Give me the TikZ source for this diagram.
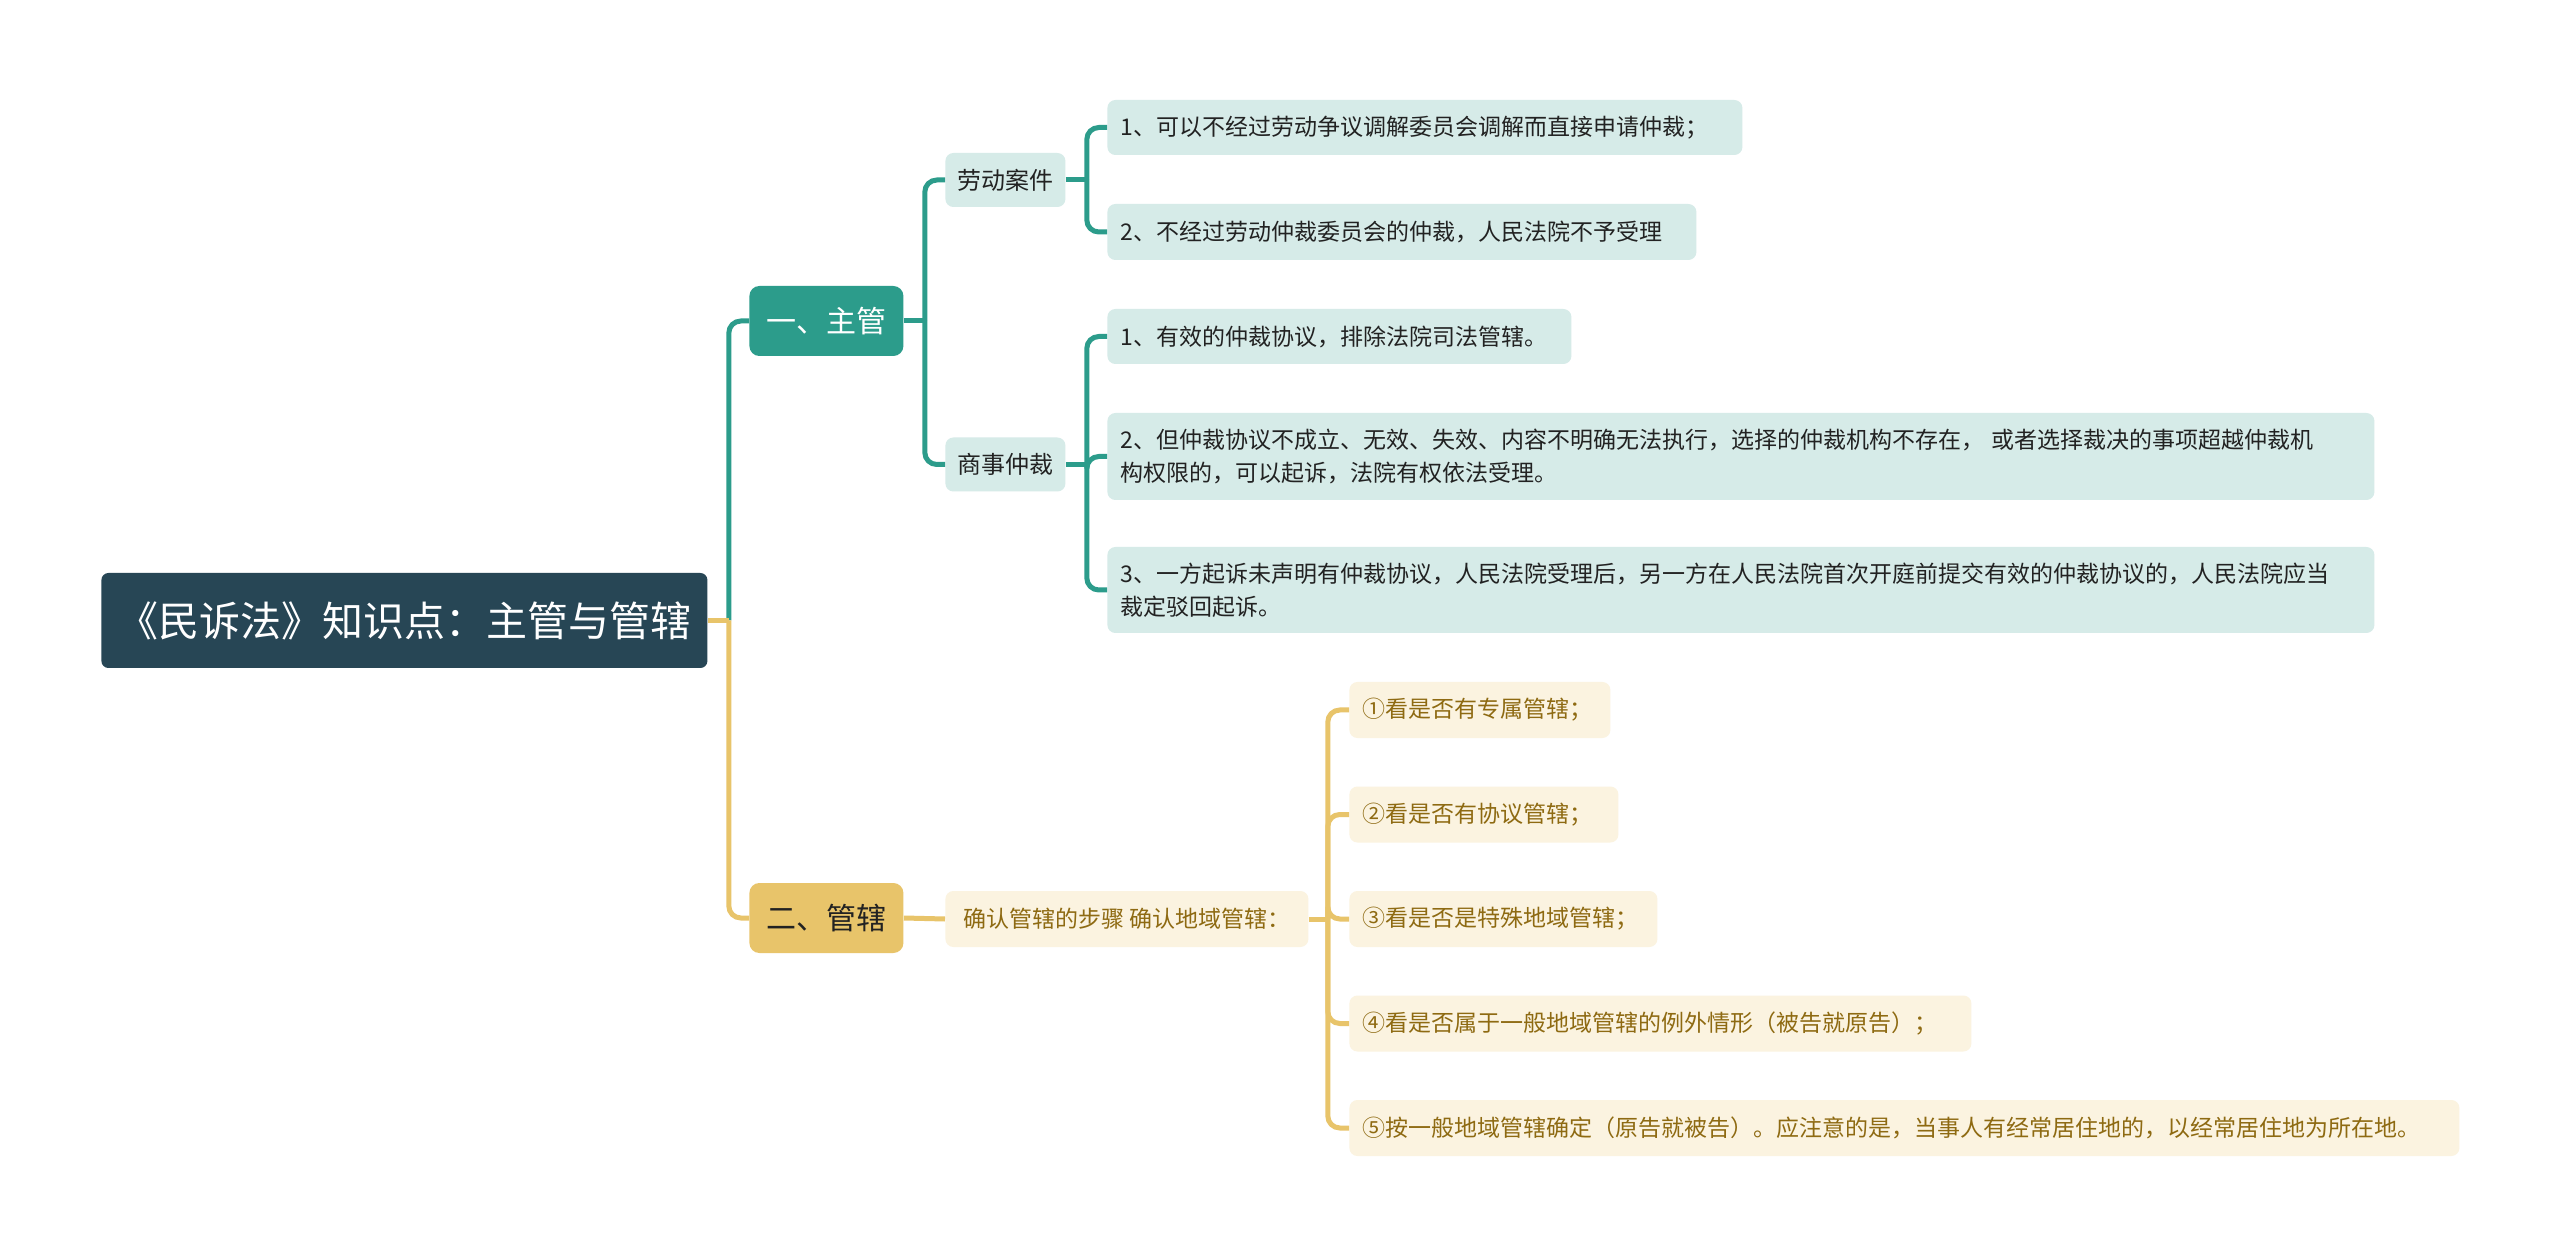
\documentclass[tikz,border=0pt]{standalone}
\usepackage{fontspec}
\setmainfont{Noto Sans CJK SC}
\definecolor{rootc}{HTML}{274655}
\definecolor{tealc}{HTML}{2C9C8B}
\definecolor{tealbg}{HTML}{D6EBE8}
\definecolor{goldc}{HTML}{E8C46A}
\definecolor{goldbg}{HTML}{FBF3E0}
\definecolor{goldtx}{HTML}{8E6A12}
\definecolor{darktx}{HTML}{222222}
\tikzset{
  tlink/.style={draw=tealc, line width=2.5pt, rounded corners=6pt},
  glink/.style={draw=goldc, line width=2.5pt, rounded corners=6pt},
  rootbox/.style={fill=rootc, rounded corners=3.5pt, text=white, inner sep=0pt,
    font=\fontsize{20.5}{25}\selectfont, anchor=west},
  lonet/.style={fill=tealc, rounded corners=5pt, text=white, inner sep=0pt,
    font=\fontsize{15}{18}\selectfont, anchor=west, minimum width=77pt, minimum height=35pt},
  loneg/.style={fill=goldc, rounded corners=5pt, text=darktx, inner sep=0pt,
    font=\fontsize{15}{18}\selectfont, anchor=west, minimum width=77pt, minimum height=35pt},
  ltwot/.style={fill=tealbg, rounded corners=4pt, text=darktx, inner sep=0pt,
    font=\fontsize{12}{15}\selectfont, anchor=west, minimum width=60pt, minimum height=27pt},
  ltwog/.style={fill=goldbg, rounded corners=4pt, text=goldtx, inner sep=0pt,
    font=\fontsize{11.5}{15}\selectfont, anchor=west, minimum height=28pt},
  leaft/.style={fill=tealbg, rounded corners=4pt, text=darktx, inner xsep=6.5pt, inner ysep=0pt,
    font=\fontsize{11.5}{16.5}\selectfont, anchor=west, align=left},
  leafg/.style={fill=goldbg, rounded corners=4pt, text=goldtx, inner xsep=6.5pt, inner ysep=0pt,
    font=\fontsize{11.5}{16.5}\selectfont, anchor=west, align=left}
}
\begin{document}
\begin{tikzpicture}[x=0.5pt,y=-0.5pt]
\useasboundingbox (0,0) rectangle (2560,1256);
\fill[white] (0,0) rectangle (2560,1256);

% nodes
\node[rootbox, minimum width=303pt, minimum height=47.5pt] (root) at (101,620.5) {《民诉法》知识点：主管与管辖};
\node[lonet] (zhu) at (749,321) {一、主管};
\node[loneg] (guan) at (749,918) {二、管辖};
\node[ltwot] (lao) at (945,180) {劳动案件};
\node[ltwot] (shang) at (945,464.5) {商事仲裁};
\node[ltwog, minimum width=181.5pt] (que) at (945,919) {确认管辖的步骤 确认地域管辖：};

\node[leaft, text width=304.5pt, minimum height=27.5pt] (a1) at (1107,127.5) {1、可以不经过劳动争议调解委员会调解而直接申请仲裁；};
\node[leaft, text width=281.5pt, minimum height=28pt] (a2) at (1107,232) {2、不经过劳动仲裁委员会的仲裁，人民法院不予受理};
\node[leaft, text width=219pt, minimum height=27.5pt] (b1) at (1107,336.5) {1、有效的仲裁协议，排除法院司法管辖。};
\node[leaft, text width=620.5pt, minimum height=43.5pt] (b2) at (1107,456.5) {2、但仲裁协议不成立、无效、失效、内容不明确无法执行，选择的仲裁机构不存在， 或者选择裁决的事项超越仲裁机\\构权限的，可以起诉，法院有权依法受理。};
\node[leaft, text width=620.5pt, minimum height=43pt] (b3) at (1107,590) {3、一方起诉未声明有仲裁协议，人民法院受理后，另一方在人民法院首次开庭前提交有效的仲裁协议的，人民法院应当\\裁定驳回起诉。};

\node[leafg, text width=117.5pt, minimum height=28pt] (c1) at (1349,710) {①看是否有专属管辖；};
\node[leafg, text width=121.5pt, minimum height=28pt] (c2) at (1349,814.5) {②看是否有协议管辖；};
\node[leafg, text width=141pt, minimum height=28pt] (c3) at (1349,919) {③看是否是特殊地域管辖；};
\node[leafg, text width=298pt, minimum height=28pt] (c4) at (1349,1023.5) {④看是否属于一般地域管辖的例外情形（被告就原告）；};
\node[leafg, text width=542pt, minimum height=28pt] (c5) at (1349,1128) {⑤按一般地域管辖确定（原告就被告）。应注意的是，当事人有经常居住地的，以经常居住地为所在地。};

% connectors: root
\draw[tlink] (root.east) ++(21,0) coordinate (j0) |- (zhu.west);
\draw[glink] (j0) |- (guan.west);
\draw[glink] (root.east) -- (j0);

% 一、主管
\draw[tlink] (zhu.east) -- ++(21,0) coordinate (j1);
\draw[tlink] (j1) |- (lao.west);
\draw[tlink] (j1) |- (shang.west);

% 劳动案件
\draw[tlink] (lao.east) -- ++(21,0) coordinate (j2);
\draw[tlink] (j2) |- (a1.west);
\draw[tlink] (j2) |- (a2.west);

% 商事仲裁
\draw[tlink] (shang.east) -- ++(21,0) coordinate (j3);
\draw[tlink] (j3) |- (b1.west);
\draw[tlink] (j3) |- (b2.west);
\draw[tlink] (j3) |- (b3.west);

% 二、管辖
\draw[glink] (guan.east) -- (que.west);
\draw[glink] (que.east) -- ++(19,0) coordinate (j4);
\draw[glink] (j4) |- (c1.west);
\draw[glink] (j4) |- (c2.west);
\draw[glink] (j4) |- (c3.west);
\draw[glink] (j4) |- (c4.west);
\draw[glink] (j4) |- (c5.west);
\end{tikzpicture}
\end{document}
